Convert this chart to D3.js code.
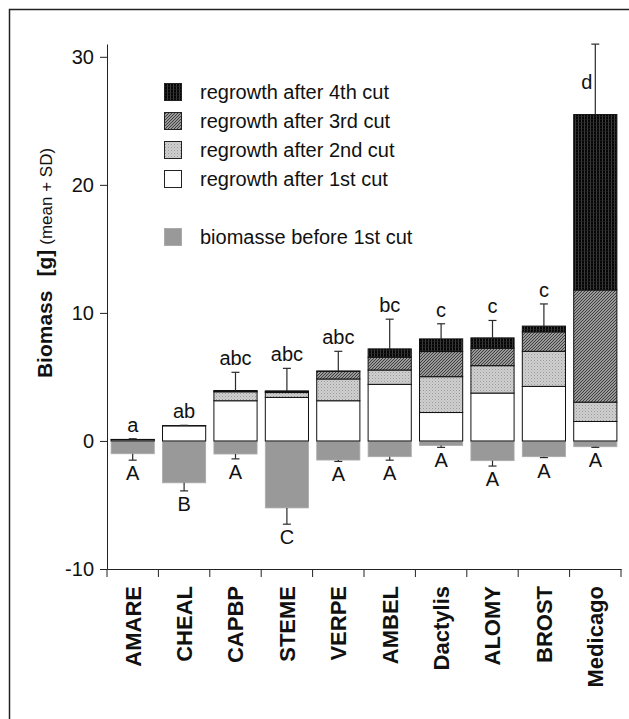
<!DOCTYPE html>
<html><head><meta charset="utf-8">
<script src="https://cdn.jsdelivr.net/npm/d3@7"></script>
<style>
html,body{margin:0;padding:0;background:#fff;}
svg{display:block;font-family:"Liberation Sans",Arial,sans-serif;}
</style></head>
<body>
<script>
const categories = ["AMARE","CHEAL","CAPBP","STEME","VERPE","AMBEL","Dactylis","ALOMY","BROST","Medicago"];
const cut1 = [0.10, 1.18, 3.14, 3.40, 3.14, 4.42, 2.22, 3.74, 4.26, 1.52];
const cut2 = [0.00, 0.00, 0.70, 0.38, 1.70, 1.12, 2.80, 2.14, 2.74, 1.51];
const cut3 = [0.00, 0.00, 0.05, 0.08, 0.60, 1.00, 1.96, 1.36, 1.52, 8.76];
const cut4 = [0.02, 0.02, 0.05, 0.05, 0.02, 0.65, 0.99, 0.81, 0.45, 13.70];
const sdRegrowth = [0.05, 0.02, 1.42, 1.76, 1.54, 2.32, 1.18, 1.36, 1.73, 5.50];
const before = [-1.00, -3.27, -1.02, -5.23, -1.49, -1.23, -0.36, -1.54, -1.23, -0.45];
const sdBefore = [0.50, 0.63, 0.38, 1.27, 0.11, 0.27, 0.14, 0.42, 0.07, 0.05];
const lettersRegrowth = ["a","ab","abc","abc","abc","bc","c","c","c","d"];
const lettersBefore = ["A","B","A","C","A","A","A","A","A","A"];
const yTicks = [-10, 0, 10, 20, 30];
const seriesKeys = ["cut1","cut2","cut3","cut4"];
const legendLabels = ["regrowth after 4th cut","regrowth after 3rd cut","regrowth after 2nd cut","regrowth after 1st cut","biomasse before 1st cut"];
const legendKeys = ["cut4","cut3","cut2","cut1","before"];

const W = 629, H = 719;
const svg = d3.select("body").append("svg").attr("width", W).attr("height", H);

// patterns
const defs = svg.append("defs");
const p4 = defs.append("pattern").attr("id","p4").attr("patternUnits","userSpaceOnUse").attr("width",3).attr("height",3);
p4.append("rect").attr("width",3).attr("height",3).attr("fill","#050505");
p4.append("rect").attr("x",2).attr("width",1).attr("height",3).attr("fill","#3c3c3c");
p4.append("rect").attr("y",2).attr("width",3).attr("height",0.6).attr("fill","#262626");
const p3 = defs.append("pattern").attr("id","p3").attr("patternUnits","userSpaceOnUse").attr("width",3).attr("height",3);
p3.append("rect").attr("width",3).attr("height",3).attr("fill","#c4c4c4");
p3.append("path").attr("d","M-1,1 L1,-1 M0,3 L3,0 M2,4 L4,2").attr("stroke","#3a3a3a").attr("stroke-width",1.2);
const p2 = defs.append("pattern").attr("id","p2").attr("patternUnits","userSpaceOnUse").attr("width",3).attr("height",3);
p2.append("rect").attr("width",3).attr("height",3).attr("fill","#cfcfcf");
p2.append("rect").attr("x",0).attr("y",0).attr("width",1).attr("height",1).attr("fill","#9a9a9a");
p2.append("rect").attr("x",1.5).attr("y",1.5).attr("width",1).attr("height",1).attr("fill","#b0b0b0");
const fills = {cut1:"#ffffff", cut2:"url(#p2)", cut3:"url(#p3)", cut4:"url(#p4)", before:"#999999"};

// frame
svg.append("rect").attr("x",9.5).attr("y",9.5).attr("width",W+20).attr("height",H+20)
  .attr("fill","none").attr("stroke","#222").attr("stroke-width",1.5);

const x = d3.scaleBand().domain(categories).range([107,621]).paddingInner(0.16).paddingOuter(0.08);
const y = d3.scaleLinear().domain([-10,31]).range([569,44]);

const rows = categories.map((c,i)=>({cat:c, cut1:cut1[i], cut2:cut2[i], cut3:cut3[i], cut4:cut4[i]}));
const stacked = d3.stack().keys(seriesKeys)(rows);

// negative bars
svg.append("g").selectAll("rect").data(categories).join("rect")
  .attr("x", d=>x(d)).attr("width", x.bandwidth())
  .attr("y", y(0)).attr("height", (d,i)=>y(before[i])-y(0))
  .attr("fill", fills.before).attr("stroke","#aaa").attr("stroke-width",0.8);

// positive stacked bars
svg.append("g").selectAll("g").data(stacked).join("g")
  .attr("fill", s=>fills[s.key])
  .selectAll("rect").data(s=>s).join("rect")
  .attr("x", d=>x(d.data.cat)).attr("width", x.bandwidth())
  .attr("y", d=>y(d[1])).attr("height", d=>Math.max(0, y(d[0])-y(d[1])))
  .attr("stroke","#111").attr("stroke-width",1);

const totals = categories.map((c,i)=>stacked[stacked.length-1][i][1]);
const errCol = "#2a2a2a";
// error bars
const eu = svg.append("g").attr("stroke", errCol).attr("stroke-width",1.2);
categories.forEach((c,i)=>{
  const cx = x(c)+x.bandwidth()/2;
  const y1 = y(totals[i]), y2 = y(totals[i]+sdRegrowth[i]);
  eu.append("line").attr("x1",cx).attr("x2",cx).attr("y1",y1).attr("y2",y2);
  eu.append("line").attr("x1",cx-4).attr("x2",cx+4).attr("y1",y2).attr("y2",y2);
  const b1 = y(before[i]), b2 = y(before[i]-sdBefore[i]);
  eu.append("line").attr("x1",cx).attr("x2",cx).attr("y1",b1).attr("y2",b2);
  eu.append("line").attr("x1",cx-4).attr("x2",cx+4).attr("y1",b2).attr("y2",b2);
});

// letters
const lt = svg.append("g").attr("font-size",20).attr("fill","#111");
categories.forEach((c,i)=>{
  const cx = x(c)+x.bandwidth()/2;
  const top = y(totals[i]+sdRegrowth[i]);
  if (top - 20 < y.range()[1]) {
    const mid = (top + y(totals[i]))/2;
    lt.append("text").attr("x",cx-3).attr("y",mid+10).attr("text-anchor","end").text(lettersRegrowth[i]);
  } else {
    lt.append("text").attr("x",cx).attr("y",top-7).attr("text-anchor","middle").text(lettersRegrowth[i]);
  }
  const bot = y(before[i]-sdBefore[i]);
  lt.append("text").attr("x",cx).attr("y",bot+20).attr("text-anchor","middle").text(lettersBefore[i]);
});

// y axis
const ya = svg.append("g").attr("transform","translate(107,0)")
  .call(d3.axisLeft(y).tickValues(yTicks).tickSize(7).tickSizeOuter(0).tickPadding(6).tickFormat(d=>String(d)));
ya.selectAll("text").attr("font-size",20).attr("font-family","Liberation Sans, Arial, sans-serif").attr("fill","#111");
ya.selectAll("line,path").attr("stroke","#222");

// x axis
const xa = svg.append("g").attr("transform","translate(0,569)")
  .call(d3.axisBottom(x).tickSize(0).tickSizeOuter(0).tickFormat(""));
xa.select("path").attr("stroke","#222");
const bounds = d3.range(categories.length+1).map(i=>x.range()[0]+i*x.step());
xa.selectAll("line.b").data(bounds).join("line").attr("class","b")
  .attr("x1",d=>d).attr("x2",d=>d).attr("y1",0).attr("y2",8).attr("stroke","#222");
svg.append("g").selectAll("text").data(categories).join("text")
  .attr("transform", d=>`translate(${x(d)+x.bandwidth()/2},586) rotate(-90)`)
  .attr("text-anchor","end").attr("dy","0.36em")
  .attr("font-size",22).attr("font-weight","bold").attr("fill","#111").text(d=>d);

// y title
const yt = svg.append("text").attr("transform","translate(52,263) rotate(-90)")
  .attr("text-anchor","middle").attr("fill","#111");
yt.append("tspan").attr("font-size",21).attr("font-weight","bold").text("Biomass");
yt.append("tspan").attr("font-size",21).attr("font-weight","bold").attr("dx",14).text("[g]");
yt.append("tspan").attr("font-size",17).attr("dx",5).text("(mean + SD)");

// legend
const rowY = [92, 121, 150, 179, 237];
const lg = svg.append("g");
legendKeys.forEach((k,i)=>{
  lg.append("rect").attr("x",164.5).attr("y",rowY[i]-8.5).attr("width",17).attr("height",17)
    .attr("fill",fills[k]).attr("stroke", k==="before" ? "#aaa" : "#222").attr("stroke-width",1);
  lg.append("text").attr("x",200).attr("y",rowY[i]+7).attr("font-size",20).attr("fill","#111").text(legendLabels[i]);
});
</script>
</body></html>
